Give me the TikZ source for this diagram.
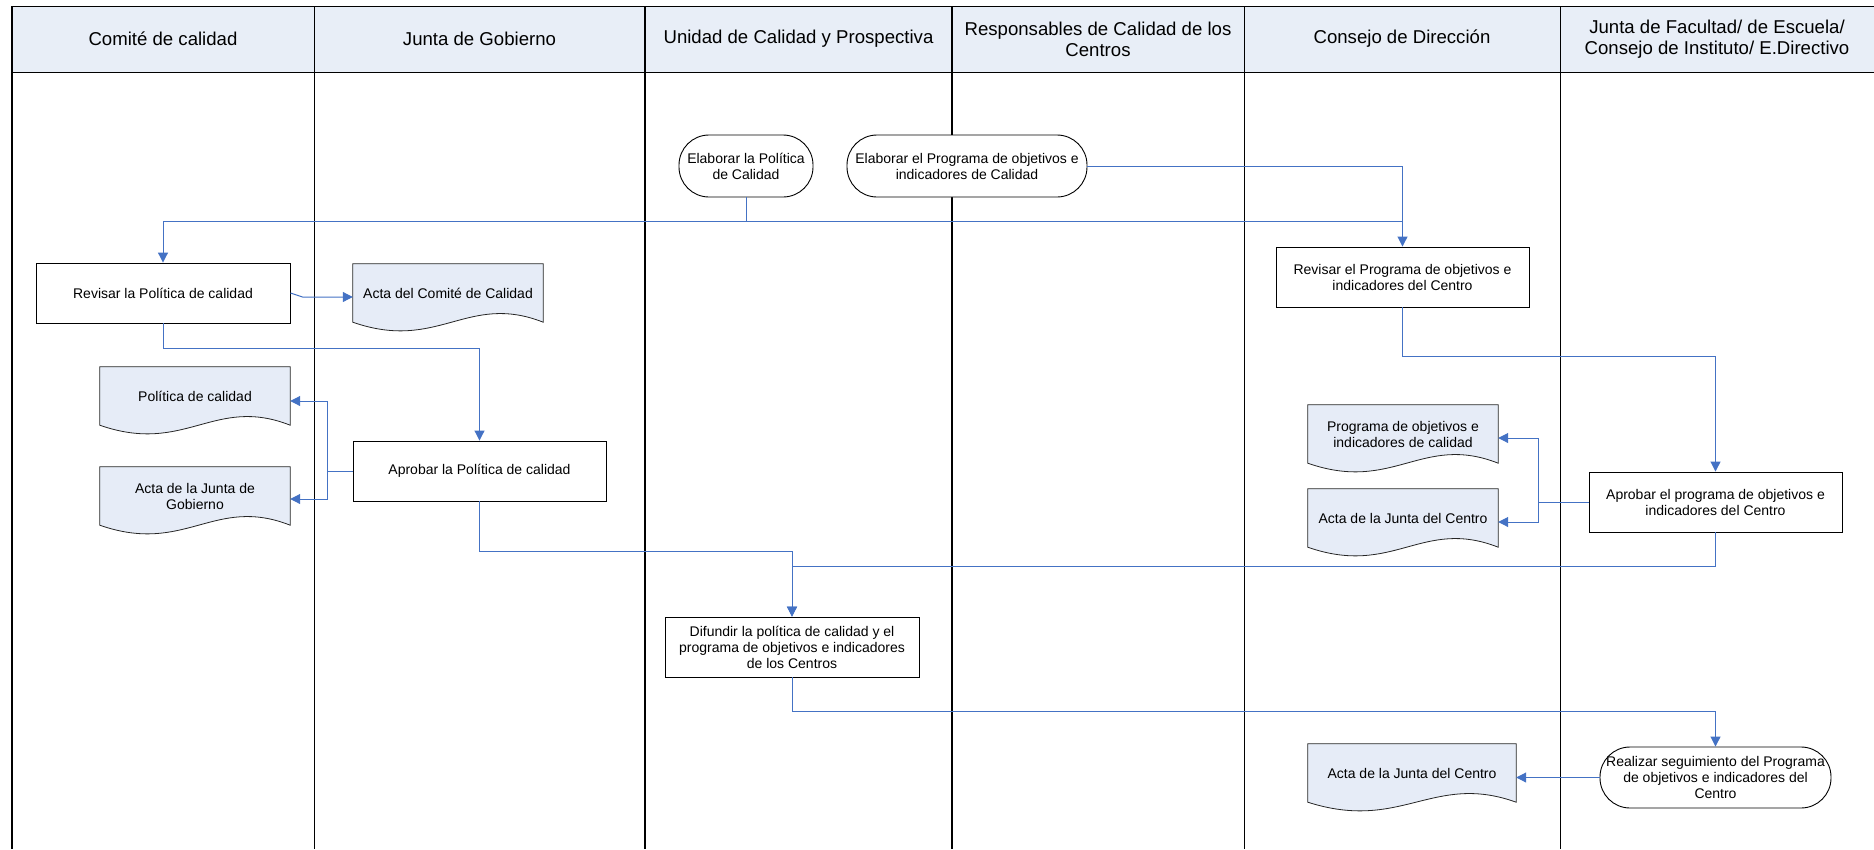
\documentclass[tikz,border=0pt]{standalone}
\usepackage{fontspec}
\setmainfont{Liberation Sans}
\usetikzlibrary{arrows.meta,backgrounds,calc}
\definecolor{hdrfill}{RGB}{232,238,247}
\definecolor{docfill}{RGB}{230,236,247}
\definecolor{flowblue}{RGB}{68,114,196}
\tikzset{
  box/.style={draw, fill=white, line width=0.9pt, align=center, font=\fontsize{14}{16}\selectfont, inner sep=2pt, minimum height=60pt},
  term/.style={box, rounded corners=30pt, minimum height=62pt},
  doc/.style={align=center, font=\fontsize{14}{16}\selectfont, inner sep=0pt, minimum height=58pt},
  hdr/.style={align=center, font=\fontsize{18.6}{21}\selectfont},
  flow/.style={draw=flowblue, line width=1pt, -{Triangle[length=10pt,width=10pt]}},
  link/.style={draw=flowblue, line width=1pt},
  lane/.style={draw=black, line width=0.8pt},
  wave/.style={draw=black!85, line width=0.8pt, fill=docfill}
}
\begin{document}
\begin{tikzpicture}[x=1pt,y=-1pt]
\useasboundingbox (0,0) rectangle (1874,849);
% swimlanes
\fill[hdrfill] (12,6) rectangle (1874,72);
\draw[lane] (12,6) -- (1874,6);
\draw[lane] (12,72) -- (1874,72);
\foreach \x in {314,1244,1560} \draw[lane] (\x,6) -- (\x,849);
\foreach \x in {12,645,952} \draw[lane, line width=1.6pt] (\x,6) -- (\x,849);
\node[hdr] (h1) at (163,39) {Comité de calidad};
\node[hdr] (h2) at (479.5,39) {Junta de Gobierno};
\node[hdr] (h3) at (798.5,39) {Unidad de Calidad y Prospectiva};
\node[hdr] (h4) at (1098,39) {Responsables de Calidad de los\\Centros};
\node[hdr] (h5) at (1402,39) {Consejo de Dirección};
\node[hdr] (h6) at (1717,39) {Junta de Facultad/ de Escuela/\\Consejo de Instituto/ E.Directivo};
% steps
\node[term, minimum width=134] (elabPol) at (746,166) {Elaborar la Política\\de Calidad};
\node[term, minimum width=240] (elabProg) at (967,166) {Elaborar el Programa de objetivos e\\indicadores de Calidad};
\node[box, minimum width=254] (revPol) at (163,293) {Revisar la Política de calidad};
\node[doc, minimum width=190] (actaCom) at (448,293) {Acta del Comité de Calidad};
\node[doc, minimum width=190] (polDoc) at (195,396) {Política de calidad};
\node[doc, minimum width=190] (actaJG) at (195,496) {Acta de la Junta de\\Gobierno};
\node[box, minimum width=253] (aprPol) at (479.5,471) {Aprobar la Política de calidad};
\node[box, minimum width=253] (revProg) at (1402.5,277) {Revisar el Programa de objetivos e\\indicadores del Centro};
\node[doc, minimum width=190] (progDoc) at (1403,434) {Programa de objetivos e\\indicadores de calidad};
\node[doc, minimum width=190] (actaCen) at (1403,518) {Acta de la Junta del Centro};
\node[box, minimum width=253] (aprProg) at (1715.5,502) {Aprobar el programa de objetivos e\\indicadores del Centro};
\node[box, minimum width=254] (dif) at (792,647) {Difundir la política de calidad y el\\programa de objetivos e indicadores\\de los Centros};
\node[term, minimum width=231, minimum height=61] (real) at (1715.5,777.5) {Realizar seguimiento del Programa\\de objetivos e indicadores del\\Centro};
\node[doc, minimum width=208] (actaCen2) at (1412,773) {Acta de la Junta del Centro};
% document outlines
\begin{scope}[on background layer]
\foreach \d in {actaCom,polDoc,actaJG,progDoc,actaCen,actaCen2}
  \path[wave] (\d.south west) -- (\d.north west) -- (\d.north east) -- (\d.south east)
    .. controls ($(\d.south east)!0.4!(\d.south west)+(0,-30)$) and ($(\d.south west)!0.45!(\d.south east)+(0,30)$) .. (\d.south west) -- cycle;
\end{scope}
% flows
\coordinate (jPol) at ([yshift=-24pt]elabPol.south);
\path[flow] (elabPol.south) -- (jPol) -| (revPol.north);
\path[link] (jPol) -- (jPol -| revProg.north);
\path[flow] (elabProg.east) -| (revProg.north);
\path[flow] (revPol.east) -- ++(12,4) -- ([yshift=-4pt]actaCom.west);
\path[flow] (revPol.south) -- ++(0,25) -| (aprPol.north);
\path[flow] (aprPol.west) -- ++(-25,0) |- ([yshift=-5pt]polDoc.east);
\path[flow] (aprPol.west) -- ++(-25,0) |- ([yshift=-3pt]actaJG.east);
\path[flow] (aprPol.south) -- ++(0,50) -| (dif.north);
\path[flow] (revProg.south) -- ++(0,49) -| (aprProg.north);
\path[flow] (aprProg.west) -- ++(-50,0) |- ([yshift=-4pt]progDoc.east);
\path[flow] (aprProg.west) -- ++(-50,0) |- ([yshift=-4pt]actaCen.east);
\path[flow] (aprProg.south) -- ++(0,34) -| (dif.north);
\path[flow] (dif.south) -- ++(0,34) -| (real.north);
\path[flow] (real.west) -- (real.west -| actaCen2.east);
\end{tikzpicture}
\end{document}
